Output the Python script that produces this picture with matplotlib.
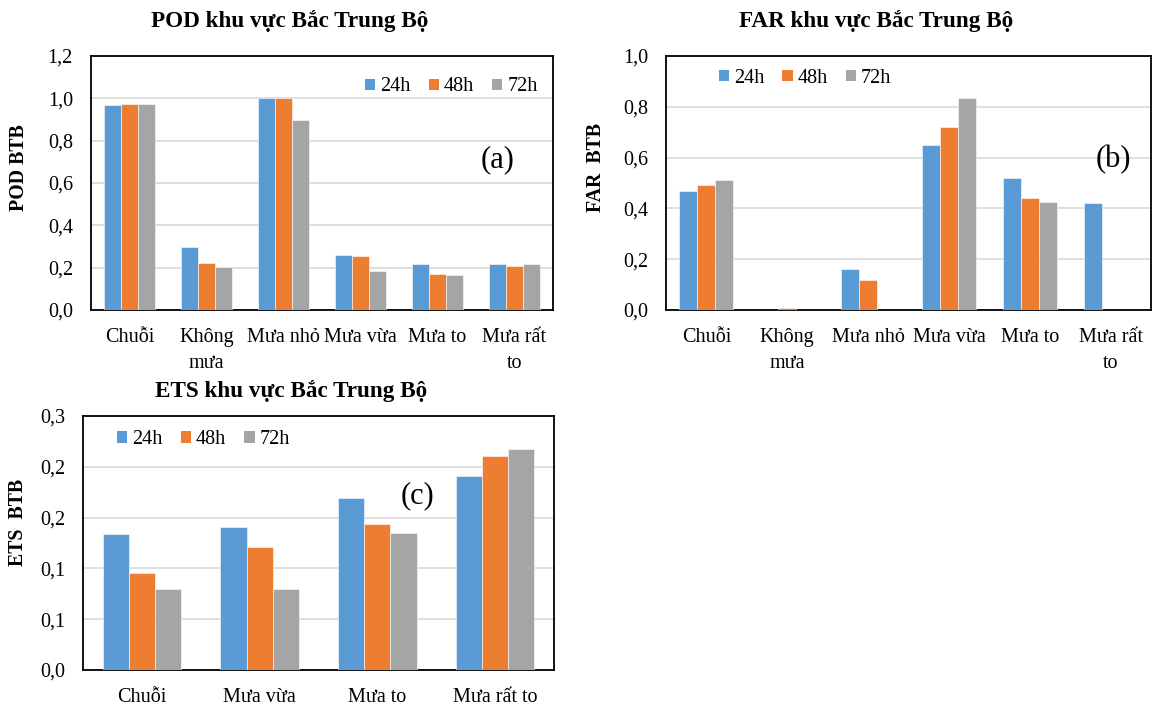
import numpy as np
import matplotlib
matplotlib.use('Agg')
import matplotlib.pyplot as plt
from matplotlib.patches import Patch
from decimal import Decimal, ROUND_HALF_UP

plt.rcParams['font.family'] = ['Liberation Serif', 'DejaVu Serif']

leads = ['24h', '48h', '72h']
colors = ['#5B9BD5', '#ED7D31', '#A5A5A5']

cats_ab = ['Chuỗi', 'Không\nmưa', 'Mưa nhỏ', 'Mưa vừa', 'Mưa to', 'Mưa rất\nto']
pod_24 = [0.970, 0.297, 1.000, 0.261, 0.217, 0.217]
pod_48 = [0.975, 0.223, 1.000, 0.254, 0.172, 0.210]
pod_72 = [0.975, 0.202, 0.896, 0.186, 0.166, 0.217]

far_24 = [0.470, 0.000, 0.162, 0.648, 0.518, 0.420]
far_48 = [0.494, 0.008, 0.119, 0.722, 0.439, 0.000]
far_72 = [0.513, 0.000, 0.000, 0.833, 0.427, 0.000]

cats_c = ['Chuỗi', 'Mưa vừa', 'Mưa to', 'Mưa rất to']
ets_24 = [0.134, 0.141, 0.169, 0.191]
ets_48 = [0.095, 0.121, 0.144, 0.211]
ets_72 = [0.080, 0.080, 0.135, 0.218]


def excelFmt(v, pos):
    # Excel-style half-up rounding to one decimal, comma separator
    d = Decimal(str(round(v, 3))).quantize(Decimal('0.1'), rounding=ROUND_HALF_UP)
    return str(d).replace('.', ',')


def drawPanel(ax, cats, series, ymax, ystep, legendPos):
    n = len(cats)
    x = np.arange(n) + 0.5
    w = 1 / 4.5
    for i, vals in enumerate(series):
        ax.bar(x + (i - 1) * w, vals, width=w, color=colors[i],
               edgecolor='white', linewidth=0.4, zorder=3)
    ax.set_xlim(0, n)
    ax.set_ylim(0, ymax)
    ax.set_xticks(x)
    ax.set_xticklabels(cats, fontsize=14.5, linespacing=1.5)
    ax.set_yticks(np.arange(0, ymax + 1e-9, ystep))
    ax.yaxis.set_major_formatter(plt.FuncFormatter(excelFmt))
    ax.tick_params(axis='y', length=0, pad=13, labelsize=14.5)
    ax.tick_params(axis='x', length=0, pad=13)
    ax.grid(axis='y', color='#D9D9D9', linewidth=1.2, zorder=0)
    for s in ax.spines.values():
        s.set_color('black')
        s.set_linewidth(1.3)
    handles = [Patch(facecolor=c, edgecolor='none') for c in colors]
    ax.legend(handles, leads, ncol=3, frameon=False, loc='center left',
              bbox_to_anchor=legendPos, borderaxespad=0, borderpad=0,
              handlelength=0.5, handleheight=0.5, handletextpad=0.25,
              columnspacing=0.9, fontsize=14.5)


W, H = 1152, 706
fig = plt.figure(figsize=(W / 100, H / 100), dpi=100)

axA = fig.add_axes([91 / W, 1 - 310 / H, 462 / W, 254 / H])
drawPanel(axA, cats_ab, [pod_24, pod_48, pod_72], 1.2, 0.2, (0.593, 0.878))

axB = fig.add_axes([666 / W, 1 - 310 / H, 485 / W, 254 / H])
drawPanel(axB, cats_ab, [far_24, far_48, far_72], 1.0, 0.2, (0.109, 0.913))

axC = fig.add_axes([83 / W, 1 - 670 / H, 471 / W, 254 / H])
drawPanel(axC, cats_c, [ets_24, ets_48, ets_72], 0.25, 0.05, (0.073, 0.906))

# titles
fig.text(290 / W, 1 - 21 / H, 'POD khu vực Bắc Trung Bộ', ha='center', va='center',
         fontsize=16.7, fontweight='bold')
fig.text(876 / W, 1 - 21 / H, 'FAR khu vực Bắc Trung Bộ', ha='center', va='center',
         fontsize=16.7, fontweight='bold')
fig.text(291 / W, 1 - 391 / H, 'ETS khu vực Bắc Trung Bộ', ha='center', va='center',
         fontsize=16.7, fontweight='bold')

# y labels
fig.text(18.5 / W, 1 - 168 / H, 'POD BTB', rotation=90, ha='center', va='center',
         fontsize=14.3, fontweight='bold')
fig.text(596 / W, 1 - 167 / H, 'FAR  BTB', rotation=90, ha='center', va='center',
         fontsize=14.3, fontweight='bold')
fig.text(18.5 / W, 1 - 522 / H, 'ETS  BTB', rotation=90, ha='center', va='center',
         fontsize=14.3, fontweight='bold')

# panel tags
fig.text(498 / W, 1 - 160 / H, '(a)', ha='center', va='center', fontsize=22)
fig.text(1113 / W, 1 - 160 / H, '(b)', ha='center', va='center', fontsize=22)
fig.text(418 / W, 1 - 496 / H, '(c)', ha='center', va='center', fontsize=22)

fig.savefig('out.png', dpi=100, facecolor='white')
